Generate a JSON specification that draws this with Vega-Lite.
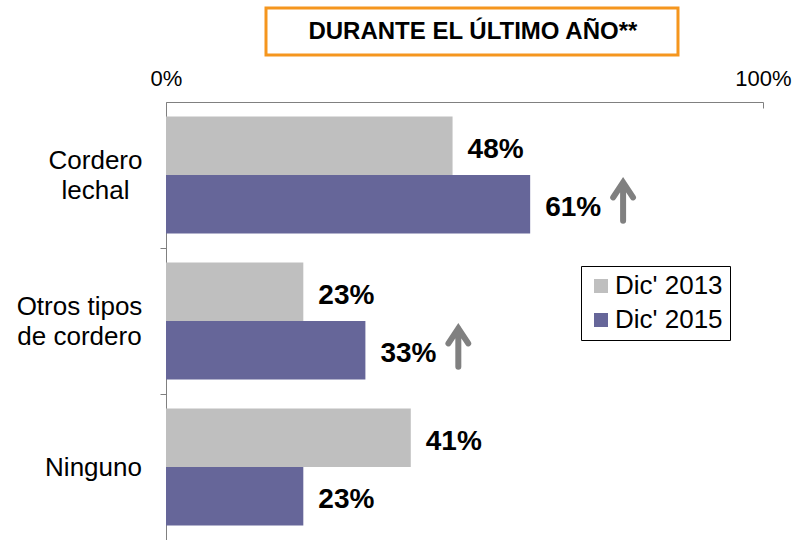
{
  "$schema": "https://vega.github.io/schema/vega-lite/v6.json",
  "background": "white",
  "padding": {"left": 16, "top": 6, "right": 6, "bottom": 0},
  "bounds": "flush",
  "spacing": 47,
  "config": {"font": "Liberation Sans", "view": {"stroke": null}},
  "vconcat": [
    {
      "width": 597,
      "height": 47,
      "data": {"values": [{}]},
      "layer": [
        {
          "mark": {"type": "rect", "fill": "white", "stroke": "#F5961E", "strokeWidth": 3},
          "encoding": {
            "x": {"datum": 0.1675, "type": "quantitative", "scale": {"domain": [0, 1]}, "axis": null},
            "x2": {"datum": 0.8576}
          }
        },
        {
          "mark": {"type": "text", "fontSize": 24, "fontWeight": "bold", "color": "black", "baseline": "middle"},
          "encoding": {
            "x": {"datum": 0.514, "type": "quantitative"},
            "text": {"value": "DURANTE EL ÚLTIMO AÑO**"}
          }
        }
      ]
    },
    {
      "width": 597,
      "height": 438,
      "data": {
        "values": [
          {"categoria": "Cordero lechal", "serie": "Dic' 2013", "valor": 0.48, "tendencia": ""},
          {"categoria": "Cordero lechal", "serie": "Dic' 2015", "valor": 0.61, "tendencia": "sube"},
          {"categoria": "Otros tipos de cordero", "serie": "Dic' 2013", "valor": 0.23, "tendencia": ""},
          {"categoria": "Otros tipos de cordero", "serie": "Dic' 2015", "valor": 0.334, "tendencia": "sube"},
          {"categoria": "Ninguno", "serie": "Dic' 2013", "valor": 0.41, "tendencia": ""},
          {"categoria": "Ninguno", "serie": "Dic' 2015", "valor": 0.23, "tendencia": ""}
        ]
      },
      "encoding": {
        "y": {
          "field": "categoria",
          "type": "nominal",
          "sort": ["Cordero lechal", "Otros tipos de cordero", "Ninguno"],
          "scale": {"paddingInner": 0.2, "paddingOuter": 0.1},
          "axis": {
            "title": null,
            "domainColor": "#808080",
            "tickColor": "#808080",
            "tickSize": 6,
            "tickOffset": 73,
            "labelFontSize": 26,
            "labelColor": "black",
            "labelAlign": "center",
            "labelLineHeight": 30,
            "labelPadding": {
              "condition": [
                {"test": "datum.value == 'Otros tipos de cordero'", "value": 81},
                {"test": "datum.value == 'Ninguno'", "value": 67}
              ],
              "value": 65
            },
            "labelOffset": {"condition": {"test": "datum.value == 'Ninguno'", "value": -73}, "value": -88},
            "labelExpr": "datum.value == 'Cordero lechal' ? ['Cordero', 'lechal'] : datum.value == 'Otros tipos de cordero' ? ['Otros tipos', 'de cordero'] : datum.value"
          }
        },
        "yOffset": {
          "field": "serie",
          "type": "nominal",
          "sort": ["Dic' 2013", "Dic' 2015"],
          "scale": {"paddingInner": 0, "paddingOuter": 0}
        },
        "x": {
          "field": "valor",
          "type": "quantitative",
          "scale": {"domain": [0, 1]},
          "axis": {
            "orient": "top",
            "values": [0, 1],
            "format": ".0%",
            "title": null,
            "grid": false,
            "domainColor": "#808080",
            "tickColor": "#808080",
            "tickSize": -6,
            "labelFontSize": 22,
            "labelColor": "black",
            "labelPadding": 18,
            "labelFlush": false
          }
        }
      },
      "layer": [
        {
          "mark": {"type": "bar"},
          "encoding": {
            "color": {
              "field": "serie",
              "type": "nominal",
              "scale": {"domain": ["Dic' 2013", "Dic' 2015"], "range": ["#BFBFBF", "#666699"]},
              "legend": {
                "title": null,
                "orient": "none",
                "legendX": 415,
                "legendY": 258,
                "symbolType": "square",
                "symbolSize": 196,
                "symbolStrokeWidth": 0,
                "labelFontSize": 26,
                "labelColor": "black",
                "labelOffset": 1,
                "strokeColor": "black",
                "fillColor": "white",
                "padding": 7,
                "rowPadding": 8
              }
            }
          }
        },
        {
          "mark": {"type": "text", "align": "left", "baseline": "middle", "dx": 15, "dy": 4, "fontSize": 28, "fontWeight": "bold", "color": "black"},
          "encoding": {"text": {"field": "valor", "type": "quantitative", "format": ".0%"}}
        },
        {
          "transform": [{"filter": "datum.tendencia == 'sube'"}],
          "mark": {
            "type": "point",
            "shape": "M3.69,-0.3 L4.13,-0.97 L4.57,-0.3 M4.13,-0.97 L4.13,0.73",
            "filled": false,
            "stroke": "#808080",
            "strokeWidth": 6,
            "strokeCap": "round",
            "size": 2025,
            "opacity": 1
          }
        }
      ]
    }
  ]
}
